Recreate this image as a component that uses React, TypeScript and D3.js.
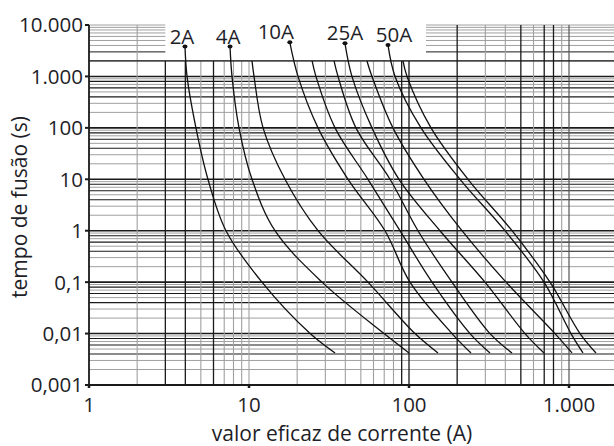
import React from "react";
import * as d3 from "d3";

// fusing time levels (s) at which each curve was read
const ratings = ["2A", "4A", "6A", "10A", "16A", "20A", "25A", "35A", "50A", "63A"];
const labelled = [true, true, false, true, false, false, true, false, true, false];
const startTimes = [3800, 3800, 2000, 4600, 2000, 2000, 4400, 2000, 4100, 2000];
const levelTimes = [1000, 100, 10, 1, 0.1, 0.01, 0.0042];

// currents (A) at startTime followed by levelTimes
const c2A = [3.98, 4.1, 4.66, 5.54, 7.18, 12.05, 24.1, 34.5];
const c4A = [7.61, 7.83, 8.66, 10.44, 14.54, 28.6, 69.8, 100];
const c6A = [10.44, 10.75, 12.24, 16.79, 27.0, 55.4, 109, 151.8];
const c10A = [18.0, 20.25, 27.0, 41.6, 70.8, 101.4, 185.7, 244];
const c16A = [24.8, 26.2, 34.5, 55.4, 87.8, 139.3, 240.6, 320.8];
const c20A = [34.0, 36.0, 46.6, 76.1, 113.8, 185.7, 320.8, 440.4];
const c25A = [39.8, 44.0, 58.7, 86.6, 156.2, 298.5, 530.9, 698];
const c35A = [54.6, 58.7, 79.4, 124.1, 214.4, 403.9, 817.6, 1044];
const c50A = [73.9, 81.8, 118.9, 208.4, 398.1, 698, 1029, 1223];
const c63A = [91.7, 97.2, 137.3, 233.7, 440.4, 760.8, 1172, 1475];
const currents = [c2A, c4A, c6A, c10A, c16A, c20A, c25A, c35A, c50A, c63A];

const yTickValues = [10000, 1000, 100, 10, 1, 0.1, 0.01, 0.001];
const yTickLabels = ["10.000", "1.000", "100", "10", "1", "0,1", "0,01", "0,001"];
const xTickValues = [1, 10, 100, 1000];
const xTickLabels = ["1", "10", "100", "1.000"];

const labelDx = [-3, -2, 0, -14, 0, 0, 0, 0, 6, 0];

const FONT = "'Open Sans', Lato, sans-serif";

export default function App() {
  const x = d3.scaleLog().domain([1, 1000]).range([89, 569]);
  const y = d3.scaleLog().domain([0.001, 10000]).range([385, 25]);
  const xRight = 614;
  const black = "#1a1a1a";
  const gray = "#a0a0a0";
  const txt = "#1e1e28";

  // horizontal grid
  const hStyle: Record<number, string> = { 1: black, 2: gray, 3: gray, 4: black, 5: gray, 6: black, 7: gray, 8: black, 9: gray };
  const hLines: JSX.Element[] = [];
  [0.001, 0.01, 0.1, 1, 10, 100, 1000].forEach((dec) => {
    for (let m = 1; m <= 9; m++) {
      const v = dec * m;
      const yy = y(v);
      const col = hStyle[m];
      const w = m === 1 ? 1.6 : col === black ? 1.1 : 1;
      if (v <= 2000) {
        if (v === 0.001) continue;
        hLines.push(<line key={"h" + v} x1={89} x2={xRight} y1={yy} y2={yy} stroke={col} strokeWidth={w} />);
      } else {
        const c = v === 3000 ? black : gray;
        hLines.push(<line key={"ha" + v} x1={89} x2={x(3)} y1={yy} y2={yy} stroke={c} strokeWidth={1} />);
        hLines.push(<line key={"hb" + v} x1={426} x2={xRight} y1={yy} y2={yy} stroke={c} strokeWidth={1} />);
      }
    }
  });
  hLines.push(<line key="ht1" x1={89} x2={x(3)} y1={y(10000)} y2={y(10000)} stroke={gray} strokeWidth={1} />);
  hLines.push(<line key="ht2" x1={426} x2={xRight} y1={y(10000)} y2={y(10000)} stroke={gray} strokeWidth={1} />);

  // vertical grid
  const vBlack = new Set([3, 4, 6, 90, 100, 200, 500, 700, 800]);
  const vLines: JSX.Element[] = [];
  [1, 10, 100].forEach((dec) => {
    for (let m = 1; m <= 9; m++) {
      const v = dec * m;
      if (v === 1) continue;
      const xx = x(v);
      const col = vBlack.has(v) ? black : gray;
      const top = v === 2 || v >= 200 ? 25 : y(2000);
      vLines.push(<line key={"v" + v} x1={xx} x2={xx} y1={top} y2={385} stroke={col} strokeWidth={col === black ? 1.3 : 1.1} />);
    }
  });
  vLines.push(<line key="v1000" x1={x(1000)} x2={x(1000)} y1={25} y2={385} stroke="#555" strokeWidth={1.2} />);

  const line = d3
    .line<[number, number]>()
    .x((d) => x(d[0]))
    .y((d) => y(d[1]))
    .curve(d3.curveCatmullRom.alpha(0.5));

  return (
    <svg width={614} height={446} style={{ position: "absolute", left: 0, top: 0, background: "#fff" }} fontFamily={FONT}>
      <rect width={614} height={446} fill="#fff" />
      {hLines}
      {vLines}
      <line x1={89} x2={xRight} y1={y(2000)} y2={y(2000)} stroke={black} strokeWidth={1.3} />
      {/* axes */}
      <line x1={89} x2={89} y1={25} y2={385} stroke={black} strokeWidth={1.8} />
      <line x1={89} x2={xRight} y1={385} y2={385} stroke={black} strokeWidth={1.8} />
      {yTickValues.map((v, i) => (
        <g key={"yt" + i}>
          <line x1={85} x2={89} y1={y(v)} y2={y(v)} stroke={black} strokeWidth={2} />
          <text x={83} y={y(v)} dy="0.36em" textAnchor="end" fontSize={20.5} fill={txt}>
            {yTickLabels[i]}
          </text>
        </g>
      ))}
      {xTickValues.map((v, i) => (
        <g key={"xt" + i}>
          <line x1={x(v)} x2={x(v)} y1={385} y2={388} stroke={black} strokeWidth={2.5} />
          <text x={x(v)} y={412} textAnchor="middle" fontSize={20.5} fill={txt}>
            {xTickLabels[i]}
          </text>
        </g>
      ))}
      <text x={342} y={441} textAnchor="middle" fontSize={21} fill={txt}>
        valor eficaz de corrente (A)
      </text>
      <text transform="translate(27,207) rotate(-90)" textAnchor="middle" fontSize={21} fill={txt}>
        tempo de fusão (s)
      </text>
      {/* curves */}
      {currents.map((cs, i) => {
        const times = [startTimes[i], ...levelTimes];
        const pts = cs.map((c, j) => [c, times[j]] as [number, number]);
        return (
          <g key={"c" + i}>
            <path d={line(pts) || ""} fill="none" stroke="#111" strokeWidth={1.3} />
            {labelled[i] && (
              <>
                <ellipse cx={x(cs[0])} cy={y(startTimes[i])} rx={2.5} ry={2} fill="#111" />
                <text x={x(cs[0]) + labelDx[i]} y={y(startTimes[i]) - 3} textAnchor="middle" fontSize={20.5} fill={txt}>
                  {ratings[i]}
                </text>
              </>
            )}
          </g>
        );
      })}
    </svg>
  );
}
